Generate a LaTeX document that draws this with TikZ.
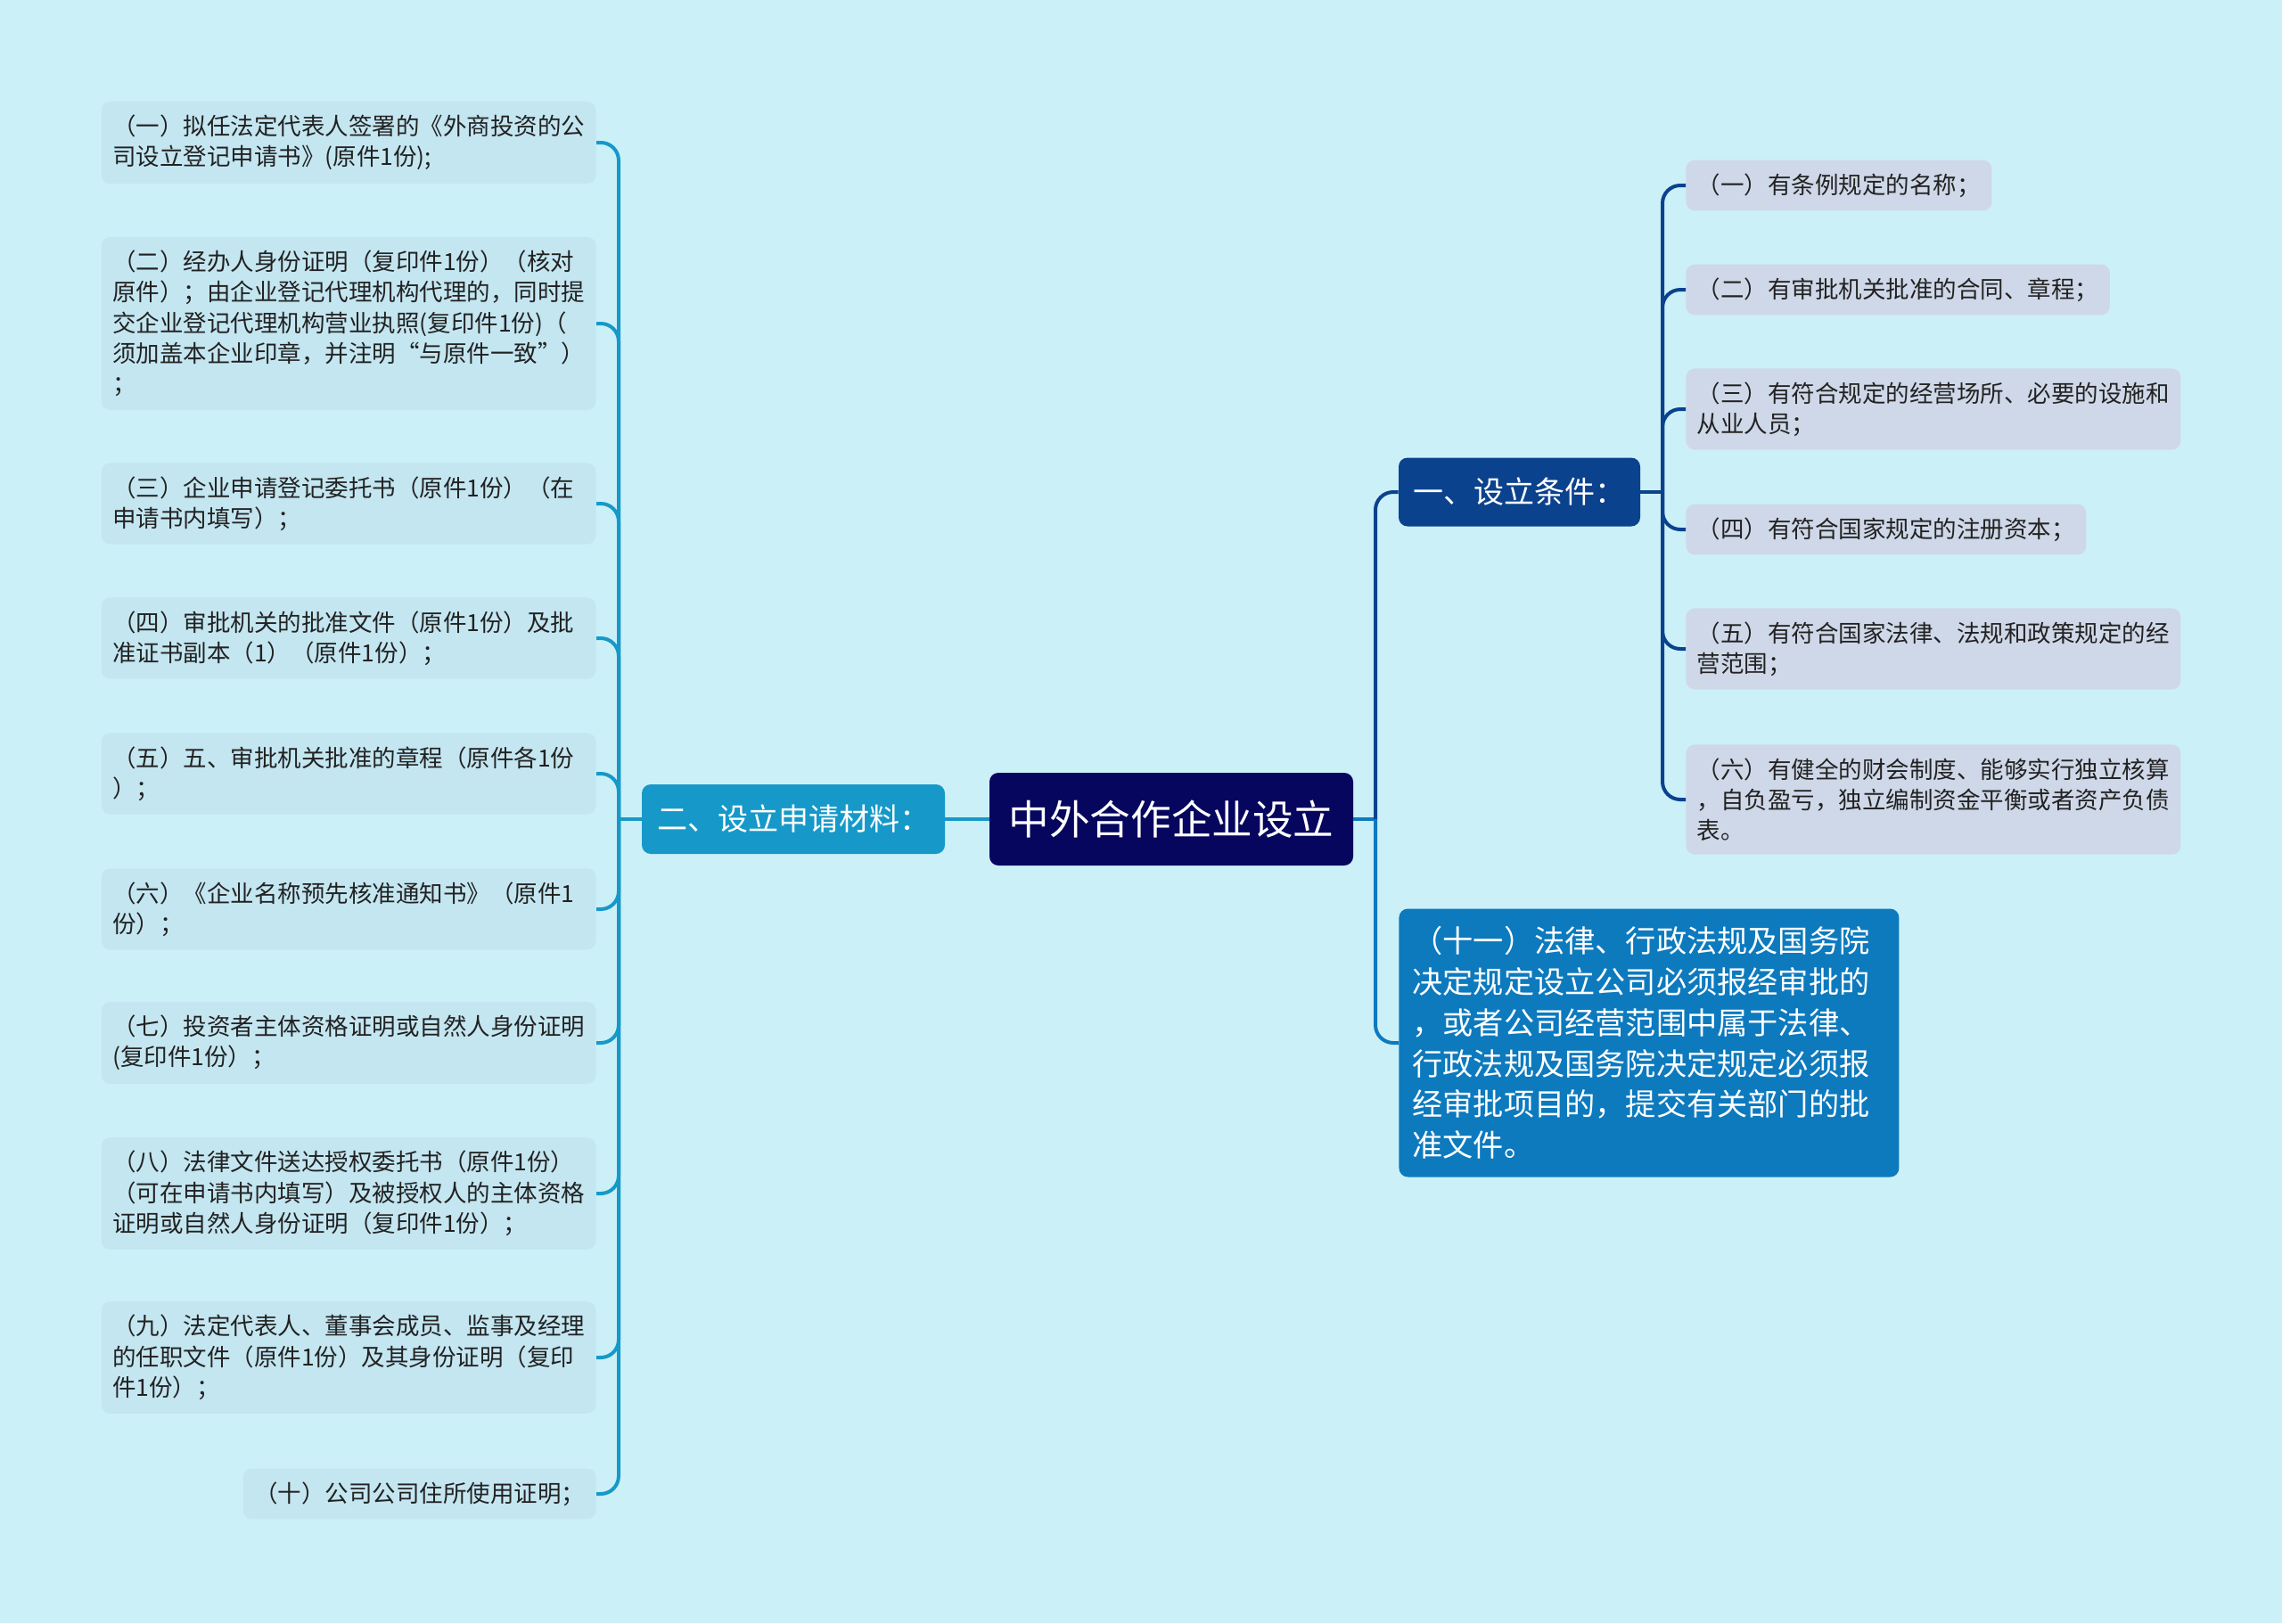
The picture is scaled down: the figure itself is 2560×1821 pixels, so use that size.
\documentclass[tikz,border=0pt]{standalone}
\usepackage{fontspec}
\setmainfont{Noto Sans CJK SC}
\definecolor{bg}{RGB}{204,240,248}
\definecolor{navy}{RGB}{6,6,94}
\definecolor{condblue}{RGB}{11,66,142}
\definecolor{applyblue}{RGB}{22,153,201}
\definecolor{lawblue}{RGB}{13,122,190}
\definecolor{rleaf}{RGB}{207,216,232}
\definecolor{lleaf}{RGB}{196,230,241}
\definecolor{ink}{RGB}{34,34,34}

\begin{document}
\begin{tikzpicture}[x=.5pt,y=-.5pt,
    box/.style={rounded corners=5pt,inner xsep=6.25pt,inner ysep=7.5pt,align=left,text=ink,
      font=\fontsize{13.25pt}{17.15pt}\selectfont},
    lbox/.style={box,fill=lleaf,anchor=east,text width=265pt},
    rbox/.style={box,fill=rleaf,anchor=west},
    head/.style={rounded corners=5pt,text=white,inner xsep=0pt,font=\fontsize{17pt}{20pt}\selectfont},
    lline/.style={applyblue,line width=2pt,rounded corners=10pt},
    rline/.style={condblue,line width=2pt,rounded corners=10pt}]
  \useasboundingbox (0,0) rectangle (2560,1821);
  \fill[bg] (0,0) rectangle (2560,1821);

  \node[rounded corners=5pt,fill=navy,text=white,minimum width=204pt,minimum height=52pt,
    font=\fontsize{22.8pt}{26pt}\selectfont] (root) at (1314,919) {中外合作企业设立};
  \node[head,fill=applyblue,minimum width=170pt,minimum height=39pt] (apply) at (890,919) {二、设立申请材料：};
  \node[head,fill=condblue,minimum width=135.5pt,minimum height=38.5pt] (cond) at (1704.5,552) {一、设立条件：};
  \node[rounded corners=5pt,fill=lawblue,text=white,anchor=west,align=left,text width=265.5pt,
    inner xsep=7.5pt,inner ysep=10pt,font=\fontsize{17.1pt}{22.9pt}\selectfont] (law) at (1569,1170)
    {（十一）法律、行政法规及国务院\\决定规定设立公司必须报经审批的\\，或者公司经营范围中属于法律、\\行政法规及国务院决定规定必须报\\经审批项目的，提交有关部门的批\\准文件。};

  \node[lbox] (l1) at (669,160) {（一）拟任法定代表人签署的《外商投资的公\\司设立登记申请书》(原件1份);};
  \node[lbox] (l2) at (669,363) {（二）经办人身份证明（复印件1份）（核对\\原件）；由企业登记代理机构代理的，同时提\\交企业登记代理机构营业执照(复印件1份)（\\须加盖本企业印章，并注明“与原件一致”）\\；};
  \node[lbox] (l3) at (669,565) {（三）企业申请登记委托书（原件1份）（在\\申请书内填写）；};
  \node[lbox] (l4) at (669,716) {（四）审批机关的批准文件（原件1份）及批\\准证书副本（1）（原件1份）；};
  \node[lbox] (l5) at (669,868) {（五）五、审批机关批准的章程（原件各1份\\）；};
  \node[lbox] (l6) at (669,1020) {（六）《企业名称预先核准通知书》（原件1\\份）；};
  \node[lbox] (l7) at (669,1170) {（七）投资者主体资格证明或自然人身份证明\\(复印件1份）；};
  \node[lbox] (l8) at (669,1339) {（八）法律文件送达授权委托书（原件1份）\\（可在申请书内填写）及被授权人的主体资格\\证明或自然人身份证明（复印件1份）；};
  \node[lbox] (l9) at (669,1523) {（九）法定代表人、董事会成员、监事及经理\\的任职文件（原件1份）及其身份证明（复印\\件1份）；};
  \node[box,fill=lleaf,anchor=east] (l10) at (669,1676) {（十）公司公司住所使用证明；};

  \node[rbox] (r1) at (1891,208) {（一）有条例规定的名称；};
  \node[rbox] (r2) at (1891,325) {（二）有审批机关批准的合同、章程；};
  \node[rbox] (r3) at (1891,459) {（三）有符合规定的经营场所、必要的设施和\\从业人员；};
  \node[rbox] (r4) at (1891,594) {（四）有符合国家规定的注册资本；};
  \node[rbox] (r5) at (1891,728) {（五）有符合国家法律、法规和政策规定的经\\营范围；};
  \node[rbox] (r6) at (1891,897) {（六）有健全的财会制度、能够实行独立核算\\，自负盈亏，独立编制资金平衡或者资产负债\\表。};

  \coordinate (ltrunk) at (694,919);
  \coordinate (mtrunk) at (1543,919);
  \coordinate (rtrunk) at (1865,552);

  \draw[applyblue,line width=2pt] (root.west) -- (apply.east);
  \draw[lline] (apply.west) -- (ltrunk);
  \foreach \i in {1,...,10} \draw[lline] (ltrunk) |- (l\i.east);

  \draw[lawblue,line width=2pt] (root.east) -- (mtrunk);
  \draw[rline] (mtrunk) |- (cond.west);
  \draw[lline,lawblue] (mtrunk) |- (law.west);

  \draw[rline] (cond.east) -- (rtrunk);
  \foreach \i in {1,...,6} \draw[rline] (rtrunk) |- (r\i.west);
\end{tikzpicture}
\end{document}
